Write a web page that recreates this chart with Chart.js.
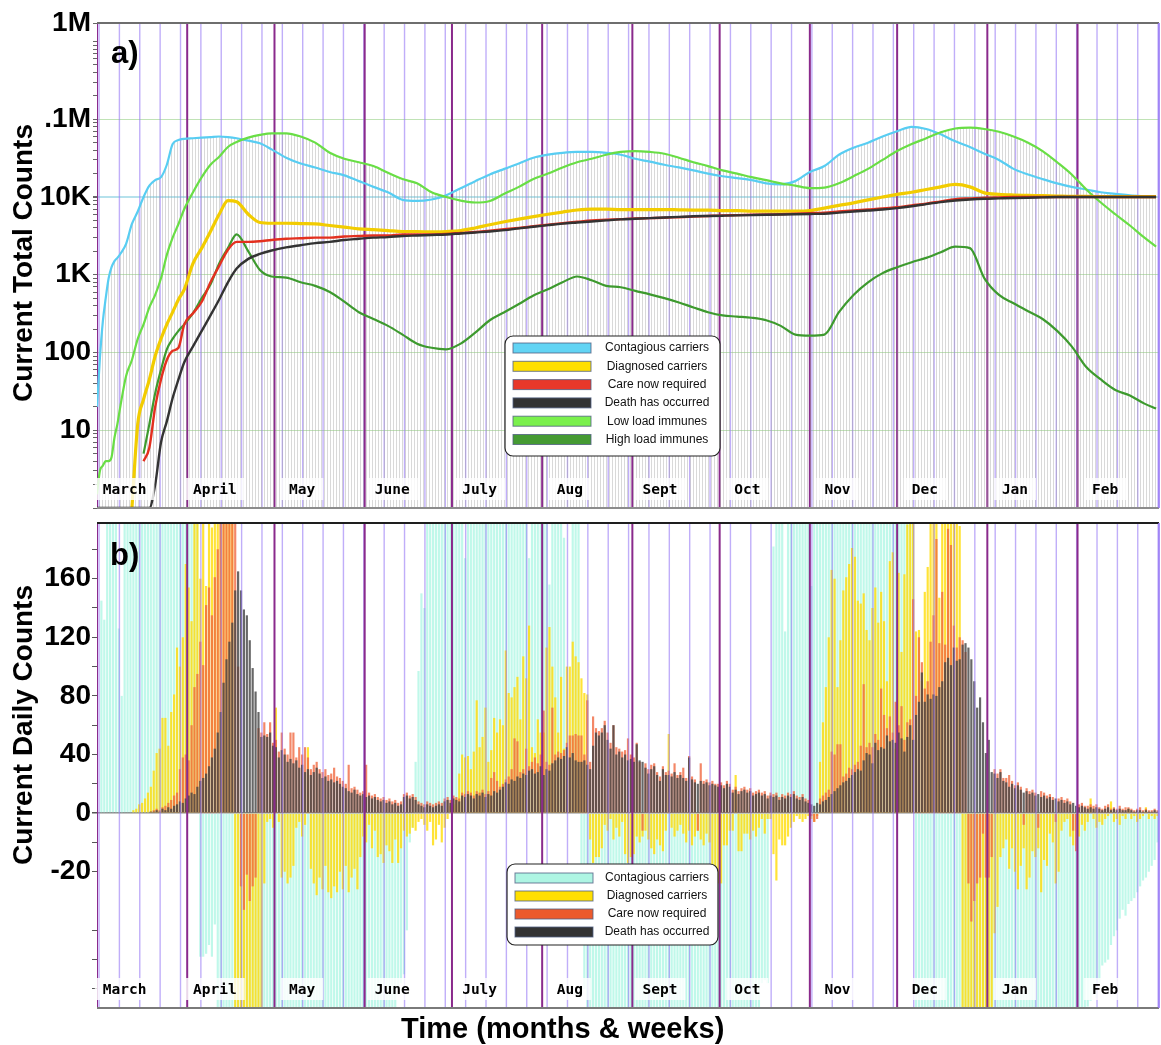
<!DOCTYPE html>
<html lang="en">
<head>
<meta charset="utf-8">
<title>Current total and daily counts</title>
<script src="https://cdn.jsdelivr.net/npm/chart.js@4.4.1/dist/chart.umd.min.js"></script>
<style>
  html, body { margin: 0; padding: 0; background: #fff; }
  .panel { position: absolute; left: 0; width: 1161px; }
  #panelA { top: 0; height: 515px; }
  #panelB { top: 515px; height: 530px; }
</style>
</head>
<body>
<div id="panelA" class="panel"><canvas id="totals"></canvas></div>
<div id="panelB" class="panel"><canvas id="daily"></canvas></div>
<script>
"use strict";
// time axis: day 0 = 1 March, 365 days
const totalDays = 365;
const monthNames = ['March', 'April', 'May', 'June', 'July', 'Aug', 'Sept', 'Oct', 'Nov', 'Dec', 'Jan', 'Feb'];
const monthStartDays = [0, 31, 61, 92, 122, 153, 184, 214, 245, 275, 306, 337];
const weekLineOffset = 0.7;
const monthLabelOffset = 9.5;

// panel a) running totals, read off at these days
const sampleDays = [0,1,2,3,4,5,6,7,8,10,12,14,16,18,20,22,24,26,28,30,33,36,39,42,45,48,52,56,60,
  65,70,75,80,85,90,95,100,105,110,115,120,125,130,135,140,145,150,155,160,165,170,175,180,185,190,195,
  200,205,210,215,220,225,230,235,240,245,250,255,260,265,270,275,280,285,290,295,300,305,310,315,320,
  325,330,335,340,345,350,355,360,364];
const contagiousTotal = [20,85,250,500,900,1250,1500,1650,1850,
  2500,4500,6500,10000,14000,16500,18000,26000,48000,54000,56000,
  57000,58000,59000,60000,59000,57000, 53000,49000,41000,
  32000,27000,24000,21000,19000,16000,13500,11500,9200,8900,
  9300,10500,13000,16000,19500,23000,27000,32000,35000,37000,
  38000,38000,37000,35000,31000,28500,26000,24000,22000,20000,
  18500,17500,16500,15000,14500,16000,21000,25000,35000,43000,
  50000,60000,70000,80000,75000,64000,52000,44000,36000,30000,
  23000,19500,17000,15000,13500,12500,11500,11000,10500,10200, 10000];
const diagnosedTotal = [null,null,null,null,null,null,null,null,null,
  null,1,12,25,45,90,150,230,330,480,650,
  1400,2200,3600,6000,9000,8700, 6000,4700,4600,
  4600,4550,4500,4300,4100,3900,3800,3700,3600,3600,
  3550,3600,3700,4000,4400,4800,5200,5600,6000,6400,
  6800,7000,7000,6900,6900,6900,6900,6850,6800,6800,
  6700,6700,6600,6600,6600,6600,6700,7200,7800,8400,
  9200,10000,10800,11500,12500,13500,14500,13500,11300,10800,
  10600,10500,10400,10300,10200,10200,10100,10100,10100,10100, 10100];
const careTotal = [null,null,null,null,null,null,null,null,null,
  null,null,null,4,6,20,45,80,105,115,230,
  320,450,800,1300,2100,2650, 2650,2700,2800,
  2900,2950,3000,3000,3100,3150,3200,3200,3300,3300,
  3300,3350,3450,3550,3700,3850,4000,4200,4400,4600,
  4800,5000,5100,5200,5300,5350,5400,5500,5600,5700,
  5800,5850,5900,5950,6000,6100,6200,6300,6500,6700,
  6900,7100,7400,7800,8200,8800,9400,9600,9800,9900,
  10000,10000,10000,10000,10000,10000,10000,10000,10000,10000, 10000];
const deathTotal = [1,1,1,1,1,1,1,1,1,
  1,1,1,1,1,2,7,13,26,45,75,
  120,190,300,480,800,1200, 1600,1850,2050,
  2250,2400,2550,2650,2800,2900,3000,3050,3150,3200,
  3250,3300,3400,3500,3600,3750,3950,4150,4350,4550,
  4700,4850,5000,5150,5250,5350,5450,5550,5650,5700,
  5750,5800,5850,5900,5950,6000,6050,6100,6300,6500,
  6700,6900,7200,7600,8100,8600,9000,9300,9500,9600,
  9700,9800,9900,10000,10000,10000,10000,10000,10000,10000, 10000];
const lowLoadImmune = [1.5,3,3.5,4,4,4.5,8,12,20,
  50,80,150,230,380,550,900,1800,3000,4500,7000,
  11500,18000,26000,33000,44000,51000, 58000,63000,66000,
  66000,60000,50000,37000,31000,28000,25000,20500,17000,15000,
  11500,10000,9000,8500,8900,11000,13500,17000,20000,24000,
  28000,31000,35000,38000,39000,38000,36000,32000,28000,25000,
  22000,20000,18000,16500,15000,14000,13000,13200,15000,18500,
  23000,30000,39000,48000,57000,68000,76000,78000,75000,69000,
  60000,50000,39000,28000,19500,12500,8500,6000,4300,3000, 2300];
const highLoadImmune = [null,null,null,null,null,null,null,null,null,
  null,null,null,5,12,30,60,110,150,190,230,
  320,500,750,1400,2200,3300, 2000,1150,950,
  920,800,720,600,450,330,270,220,170,130,
  115,110,130,180,260,330,420,540,650,800,
  950,850,720,690,620,560,500,440,380,330,
  300,290,280,260,220,170,165,170,330,550,
  800,1050,1250,1450,1650,1950,2300,2200,900,550,
  430,340,270,190,120,65,45,33,28,22, 19];

// panel b) daily changes, one value per day (Mar..Feb, one line per month)
const contagiousDaily = [
  0,145,132,300,300,300,300,126,80,300, 300,300,300,300,300,300,300,300,300,300, 300,300,300,300,300,300,300,300,300,300, 300,
  300,300,300,300,-49,-49,-48,-45,-49,-38, -100,-100,-100,-100,-100,-100,-100,-100,-100,-100, -100,-100,-100,-100,-100,-100,-100,-100,-100,-100,
  -100,-100,-100,-100,-100,-100,-100,-100,-100,-100, -100,-100,-100,-100,-100,-100,-100,-100,-100,-100, -100,-100,-100,-100,-100,-100,-100,-100,-100,-100, -100,
  -100,-100,-100,-100,-100,-100,-100,-100,-100,-100, -100,-60,-58,-55,-40,-10,-5,35,97,150, 140,300,300,300,300,300,300,300,300,300,
  300,300,300,300,174,300,300,300,300,300, 300,300,300,300,300,300,300,300,300,300, 300,300,300,300,300,300,174,300,300,300, 300,
  300,300,156,300,300,300,300,188,0,0, 300,300,300,-20,-60,-100,-100,-100,-100,-100, -100,-100,-100,-100,-100,-100,-100,-100,-100,-100, -100,
  -100,-100,-100,-100,-100,-100,-100,-100,-100,-100, -100,-100,-100,-100,-100,-100,-100,-100,-100,-100, -100,-100,-100,-100,-100,-100,-100,-100,-100,-100,
  -100,-100,-100,-100,-100,-100,-100,-100,-100,-100, -100,-100,-100,-100,-58,-57,-58,0,182,300, 300,300,124,300,300,300,300,300,300,300, 300,
  155,300,300,300,300,300,300,300,300,300, 300,300,300,300,300,300,300,300,300,300, 300,300,300,300,300,300,300,300,300,300,
  300,300,300,300,300,300,-100,-100,-100,-100, -100,-100,-100,-100,-100,-100,-100,-100,-100,-100, -100,-100,-100,-100,-100,-100,-100,-100,-100,-100, -100,
  -100,-100,-100,-100,-100,-100,-100,-100,-100,-100, -100,-100,-100,-100,-100,-100,-100,-100,-100,-100, -100,-100,-100,-100,-100,-100,-100,-100,-100,-100, -100,
  -100,-100,-100,-66,-64,-62,-63,-58,-52,-51, -50,-45,-42,-40,-36,-33,-35,-31,-30,-29, -27,-25,-23,-22,-20,-18,-16,-10
];
const diagnosedDaily = [
  0,0,0,0,0,0,0,0,0,0, 0,0,2,3,6,7,10,14,18,29, 41,44,65,65,46,69,81,113,100,120, 170,
  154,131,200,250,160,250,155,250,195,250, 250,250,250,250,250,250,-100,-100,-100,-100, -100,-100,-100,-100,-100,-100,-24,-3,-2,-5,
  72,-3,-22,-20,-24,-22,-18,-5,-3,-8, -4,45,-19,-24,-28,-22,-26,-18,-27,-29, -25,-27,-20,-26,-18,-27,-22,-19,-26,-15, -8,
  -10,-4,-12,-6,-15,-14,-17,-11,-13,-17, -9,-17,-12,-6,-8,-7,-5,-6,-3,-2, -4,-6,-3,-11,-9,-4,-10,-5,-2,5,
  6,10,27,40,38,39,30,42,77,45, 52,72,35,43,65,55,64,60,111,82, 79,86,93,64,107,92,128,45,41,64, 55,
  55,113,127,100,79,55,93,44,100,100, 117,107,103,92,82,81,-9,-17,-15,-15, -12,-4,-6,-2,-9,-5,-8,-3,-14,-17, -15,
  -14,-8,-10,-8,-6,-9,-12,-14,-9,-11, -13,-6,54,-5,-8,-6,-4,-7,-10,-6, -11,-8,-6,-9,-11,-7,-10,-23,-25,-24,
  -24,-11,-11,-6,-6,26,-13,-13,-7,-7, -9,-6,-8,-5,-2,-7,-2,-2,-14,-23, -9,-11,-11,-8,-5,-3,-1,-2,-3,-2, -1,
  -2,-3,-1,35,62,86,120,166,160,86, 118,152,161,170,181,175,145,143,150,125, 118,140,154,130,151,131,90,172,178,44,
  164,110,163,197,250,250,124,125,90,151, 168,250,250,250,147,250,250,250,250,250, 250,196,-100,-100,-100,-100,-100,-100,-100,-100, -100,
  -100,-100,-41,-32,-15,-12,-9,-19,-12,-20, -26,-18,-12,-26,-22,-13,-15,-12,-27,-16, -18,-7,-10,-24,-20,-6,-3,-2,-8,-11, -6,
  -8,-4,-6,-3,10,-2,-5,-3,-4,-2, -1,8,-3,-2,-4,-1,-2,3,-2,-1, -3,-2,-1,4,-2,-1,-2,-1
];
const careDaily = [
  0,0,0,0,0,0,0,0,0,0, 0,0,0,0,0,0,0,0,1,2, 3,2,4,5,7,9,12,14,30,38, 40,
  36,60,86,95,117,101,142,154,135,161, 180,250,250,250,250,250,250,100,-25,-33, -21,-30,-25,-22,58,55,62,54,62,48,
  50,42,55,44,40,55,55,38,45,40, 45,38,30,33,35,30,28,30,26,27, 31,25,24,22,20,33,17,18,16,14, 15,
  33,14,12,13,11,10,11,9,10,8, 9,7,8,13,14,12,13,11,8,7, 6,8,7,6,7,8,7,10,11,9,
  12,11,10,14,13,15,14,12,15,14, 16,13,15,24,28,22,18,20,23,25, 30,51,49,28,30,44,32,35,38,34, 40,
  70,35,33,72,40,42,41,43,48,53, 53,54,53,53,40,77,35,66,58,56, 58,63,55,48,60,45,44,42,43,51, 40,
  38,48,35,-6,34,30,33,34,28,25, 32,28,29,27,34,26,28,31,24,39, 25,23,-6,34,22,23,21,22,20,20,
  21,19,22,20,16,18,15,17,18,16, 17,14,15,16,14,15,12,14,13,14, 11,13,12,14,13,15,12,11,13,10, 9,
  -1,-3,-2,10,12,14,16,42,40,47, 47,25,27,31,30,33,35,46,88,45, 48,45,54,50,85,67,58,66,55,76,
  60,73,50,62,64,146,80,120,103,85, 90,117,135,187,116,151,115,194,183,128, 113,120,118,110,-24,-37,-30,-24,-22,-7, -22,
  -22,-15,30,27,30,24,24,26,22,19, 21,18,-4,17,15,16,14,-5,15,14, 12,13,11,-3,10,11,9,10,8,-6, -13,
  6,7,5,5,6,5,6,4,3,5, 6,3,4,3,5,3,4,4,3,2, 3,4,2,3,2,2,3,2
];
const deathDaily = [
  0,0,0,0,0,0,0,0,0,0, 0,0,0,0,0,0,0,0,1,1, 2,1,3,2,4,3,5,6,8,7, 10,
  12,14,13,18,22,24,27,32,38,44, 55,69,89,105,117,130,152,165,152,139, 135,118,99,83,69,52,53,52,55,46,
  45,38,43,40,35,37,34,36,31,33, 28,30,26,28,31,27,24,25,22,23, 21,22,20,18,17,15,14,16,13,12, 13,
  11,12,10,11,9,8,9,7,8,6, 7,5,6,11,12,10,11,9,6,5, 4,6,5,4,5,6,5,8,9,7,
  10,9,8,12,11,13,12,10,13,12, 14,11,13,12,15,14,16,18,21,20, 23,22,25,24,27,26,29,30,27,28, 32,
  26,30,29,34,36,38,37,39,45,38, 41,36,35,35,36,33,30,46,55,53, 55,60,50,44,60,40,42,38,40,36, 37,
  35,47,36,35,31,27,30,32,26,22, 30,26,26,25,28,24,26,24,22,38, 23,21,20,22,20,21,19,20,19,18,
  19,17,20,18,14,16,13,15,16,14, 15,12,13,14,12,13,10,12,11,12, 9,11,10,12,11,13,10,9,11,8, 7,
  6,5,7,6,8,9,11,13,15,17, 19,21,22,24,26,28,30,29,36,41, 40,34,48,43,45,44,53,49,50,48,
  55,51,42,52,60,50,67,76,96,76, 81,78,81,80,86,90,103,106,101,113, 104,105,115,116,113,105,90,72,79,62, 41,
  50,28,27,24,28,22,21,18,20,17, 19,16,14,15,13,14,12,13,11,12, 10,11,9,10,8,9,7,8,6,7, 5,
  4,5,4,3,4,3,4,3,2,3, 4,2,3,2,3,2,2,3,2,1, 2,2,1,2,1,1,2,1
];

// axis ticks
const totalTickLabels = { 100000: '.1M', 10000: '10K', 1000: '1K', 100: '100', 10: '10' };
const totalAxisTop = 1.73e6;          // top edge of panel a), labelled "1M" there
const dailyTickValues = [180, 160, 140, 120, 100, 80, 60, 40, 20, 0, -10, -20, -40, -50, -60];
const dailyTickLabels = [160, 120, 80, 40, 0, -20];
const negStretch = 2;                 // the negative half of panel b) is drawn at twice the scale

[contagiousDaily, diagnosedDaily, careDaily, deathDaily].forEach((a, i) => {
  if (a.length !== totalDays) console.error('daily series ' + i + ' has ' + a.length + ' values');
});

Chart.defaults.font.family = '"Liberation Sans", Arial, sans-serif';
Chart.defaults.color = '#000';

const toDisplay = v => (v < 0 ? v * negStretch : v);
const toBars = values => values.map((v, d) => ({ x: d + 0.5, y: toDisplay(v) }));
const toPoints = values => values.map((v, i) => ({ x: sampleDays[i], y: v }));

const totalTickValues = [];
for (let k = 0; k <= 6; k++) {
  for (let m = 1; m <= 9; m++) {
    const v = m * Math.pow(10, k);
    if (v < totalAxisTop) totalTickValues.push(v);
  }
}
totalTickValues.push(totalAxisTop);

// keep the y axis at 97px wide and stop its labels from pushing the plot edges in
function fixAxis(scale) {
  scale.width = 97;
  scale.paddingTop = 0;
  scale.paddingBottom = 0;
}

// drawing helpers
function drawVerticals(chart) {
  const { ctx, chartArea: a } = chart;
  const x = chart.scales.x;
  ctx.save();
  ctx.beginPath();
  ctx.rect(a.left, a.top, a.right - a.left, a.bottom - a.top);
  ctx.clip();
  ctx.lineWidth = 1.4;
  ctx.strokeStyle = 'rgba(150,120,245,0.6)';
  for (let d = weekLineOffset; d < totalDays; d += 7) {
    const px = x.getPixelForValue(d);
    ctx.beginPath(); ctx.moveTo(px, a.top); ctx.lineTo(px, a.bottom); ctx.stroke();
  }
  ctx.lineWidth = 2;
  ctx.strokeStyle = '#8a2a8c';
  monthStartDays.forEach(d => {
    const px = x.getPixelForValue(d);
    ctx.beginPath(); ctx.moveTo(px, a.top); ctx.lineTo(px, a.bottom); ctx.stroke();
  });
  ctx.restore();
}

function drawFrame(chart, topColor, bottomColor) {
  const { ctx, chartArea: a } = chart;
  ctx.save();
  ctx.lineWidth = 2;
  ctx.strokeStyle = topColor;
  ctx.beginPath(); ctx.moveTo(a.left, a.top); ctx.lineTo(a.right, a.top); ctx.stroke();
  ctx.strokeStyle = bottomColor;
  ctx.beginPath(); ctx.moveTo(a.left, a.bottom); ctx.lineTo(a.right, a.bottom); ctx.stroke();
  ctx.strokeStyle = 'rgba(150,120,245,0.8)';
  ctx.beginPath(); ctx.moveTo(a.right, a.top); ctx.lineTo(a.right, a.bottom); ctx.stroke();
  ctx.restore();
}

function drawMonthLabels(chart) {
  const { ctx, chartArea: a } = chart;
  const x = chart.scales.x;
  const cy = a.bottom - 19;
  ctx.save();
  ctx.font = 'bold 14.5px "DejaVu Sans Mono"';
  ctx.textAlign = 'center';
  ctx.textBaseline = 'middle';
  monthNames.forEach((name, i) => {
    const cx = x.getPixelForValue(monthStartDays[i] + monthLabelOffset);
    const w = ctx.measureText(name).width + 16;
    ctx.fillStyle = 'rgba(255,255,255,0.82)';
    ctx.fillRect(cx - w / 2, cy - 11, w, 22);
    ctx.fillStyle = '#000';
    ctx.fillText(name, cx, cy + 1);
  });
  ctx.restore();
}

function drawLegendBox(chart, box, rowTop, rowStep, textX) {
  const ctx = chart.ctx;
  const items = chart.data.datasets.filter(ds => ds.legendColor);
  ctx.save();
  ctx.beginPath();
  ctx.roundRect(box.x, box.y, box.w, box.h, 8);
  ctx.fillStyle = '#fff';
  ctx.fill();
  ctx.lineWidth = 1.2;
  ctx.strokeStyle = '#222';
  ctx.stroke();
  ctx.font = '12px "Liberation Sans"';
  ctx.textAlign = 'center';
  ctx.textBaseline = 'middle';
  items.forEach((ds, i) => {
    const cy = box.y + rowTop + i * rowStep;
    ctx.fillStyle = ds.legendColor;
    ctx.fillRect(box.x + 8, cy - 5, 78, 10);
    ctx.lineWidth = 1;
    ctx.strokeStyle = 'rgba(80,95,130,0.8)';
    ctx.strokeRect(box.x + 8, cy - 5, 78, 10);
    ctx.fillStyle = '#111';
    ctx.fillText(ds.label, box.x + textX, cy);
  });
  ctx.restore();
}

function drawText(ctx, text, x, y, font, rotate) {
  ctx.save();
  ctx.translate(x, y);
  if (rotate) ctx.rotate(-Math.PI / 2);
  ctx.font = font;
  ctx.fillStyle = '#000';
  ctx.textAlign = rotate ? 'center' : 'left';
  ctx.textBaseline = rotate ? 'middle' : 'alphabetic';
  ctx.fillText(text, 0, 0);
  ctx.restore();
}

const panelADecor = {
  id: 'panelADecor',
  beforeDatasetsDraw(chart) { drawVerticals(chart); },
  afterDatasetsDraw(chart) {
    drawFrame(chart, '#6e6e6e', '#8c8c8c');
    drawMonthLabels(chart);
    drawLegendBox(chart, { x: 505, y: 336, w: 215, h: 120 }, 12, 18.3, 152);
    drawText(chart.ctx, 'a)', 111, 63, 'bold 31px "Liberation Sans"', false);
    drawText(chart.ctx, 'Current Total Counts', 24, 263, 'bold 28px "Liberation Sans"', true);
  }
};

const panelBDecor = {
  id: 'panelBDecor',
  afterDatasetsDraw(chart) {
    drawVerticals(chart);
    drawFrame(chart, '#1e1e1e', '#7a7a7a');
    drawMonthLabels(chart);
    drawLegendBox(chart, { x: 507, y: 349, w: 211, h: 81 }, 14, 18, 150);
    drawText(chart.ctx, 'b)', 110, 50, 'bold 31px "Liberation Sans"', false);
    drawText(chart.ctx, 'Current Daily Counts', 24, 210, 'bold 28px "Liberation Sans"', true);
    drawText(chart.ctx, 'Time (months & weeks)', 401, 523, 'bold 29px "Liberation Sans"', false);
  }
};

// panel a)
const totalsCanvas = document.getElementById('totals');
const hatchTile = document.createElement('canvas');
hatchTile.width = 3;
hatchTile.height = 4;
const hatchCtx = hatchTile.getContext('2d');
hatchCtx.fillStyle = 'rgba(160,160,160,0.4)';
hatchCtx.fillRect(0, 0, 1, 4);
const hatch = totalsCanvas.getContext('2d').createPattern(hatchTile, 'repeat');

const totalSeries = [contagiousTotal, diagnosedTotal, careTotal, deathTotal, lowLoadImmune, highLoadImmune];
const upperEnvelope = sampleDays.map((d, i) => Math.max(...totalSeries.map(s => s[i] || 0)));

const lineStyle = { pointRadius: 0, fill: false, cubicInterpolationMode: 'monotone', spanGaps: false };

new Chart(totalsCanvas, {
  type: 'line',
  data: {
    datasets: [
      { label: 'Contagious carriers', data: toPoints(contagiousTotal), borderColor: '#58cdf2', borderWidth: 2.2, legendColor: '#62d4f4', order: 6, ...lineStyle },
      { label: 'Diagnosed carriers', data: toPoints(diagnosedTotal), borderColor: '#f2cc00', borderWidth: 3.2, legendColor: '#ffdf00', order: 3, ...lineStyle },
      { label: 'Care now required', data: toPoints(careTotal), borderColor: '#e3301f', borderWidth: 2.4, legendColor: '#e8382a', order: 2, ...lineStyle },
      { label: 'Death has occurred', data: toPoints(deathTotal), borderColor: '#333333', borderWidth: 2.4, legendColor: '#333333', order: 1, ...lineStyle },
      { label: 'Low load immunes', data: toPoints(lowLoadImmune), borderColor: '#69de45', borderWidth: 2.2, legendColor: '#7af04c', order: 5, ...lineStyle },
      { label: 'High load immunes', data: toPoints(highLoadImmune), borderColor: '#3d9a2e', borderWidth: 2.2, legendColor: '#459a33', order: 4, ...lineStyle },
      { label: 'envelope', data: toPoints(upperEnvelope), borderWidth: 0, borderColor: 'rgba(0,0,0,0)', backgroundColor: hatch,
        fill: 'start', pointRadius: 0, cubicInterpolationMode: 'monotone', order: 10 }
    ]
  },
  options: {
    responsive: true,
    maintainAspectRatio: false,
    animation: false,
    events: [],
    layout: { padding: { top: 23, bottom: 7, left: 0, right: 2 } },
    plugins: { legend: { display: false }, tooltip: { enabled: false } },
    scales: {
      x: { type: 'linear', min: 0, max: totalDays, display: false },
      y: {
        type: 'logarithmic',
        min: 1,
        max: totalAxisTop,
        afterFit: fixAxis,
        afterBuildTicks: scale => { scale.ticks = totalTickValues.map(v => ({ value: v })); },
        border: { display: false },
        grid: {
          color: ctx => (totalTickLabels[ctx.tick.value] ? (ctx.tick.value === 10000 ? 'rgba(120,200,220,0.55)' : 'rgba(130,200,110,0.5)') : 'rgba(0,0,0,0)'),
          lineWidth: ctx => (ctx.tick.value === 10000 ? 2 : 1),
          tickColor: '#666',
          tickLength: 4
        },
        ticks: {
          autoSkip: false,
          padding: 2,
          font: { size: 28, weight: 'bold' },
          callback: v => (v === totalAxisTop ? '1M' : (totalTickLabels[v] || ''))
        }
      }
    }
  },
  plugins: [panelADecor]
});

// panel b)
const barStyle = { grouped: false, barPercentage: 0.75, categoryPercentage: 1, borderWidth: 0, clip: 0 };

new Chart(document.getElementById('daily'), {
  type: 'bar',
  data: {
    datasets: [
      { label: 'Contagious carriers', data: toBars(contagiousDaily), backgroundColor: 'rgba(168,245,226,0.72)', legendColor: '#aef5e3', order: 4, ...barStyle },
      { label: 'Diagnosed carriers', data: toBars(diagnosedDaily), backgroundColor: 'rgba(255,222,20,0.85)', legendColor: '#ffdf00', order: 3, ...barStyle },
      { label: 'Care now required', data: toBars(careDaily), backgroundColor: 'rgba(240,105,65,0.8)', legendColor: '#ec5a2c', order: 2, ...barStyle },
      { label: 'Death has occurred', data: toBars(deathDaily), backgroundColor: 'rgba(70,70,70,0.82)', legendColor: '#333333', order: 1, ...barStyle }
    ]
  },
  options: {
    responsive: true,
    maintainAspectRatio: false,
    animation: false,
    events: [],
    layout: { padding: { top: 8, bottom: 37, left: 0, right: 2 } },
    plugins: { legend: { display: false }, tooltip: { enabled: false } },
    scales: {
      x: { type: 'linear', min: 0, max: totalDays, display: false, offset: false },
      y: {
        min: -133,
        max: 198,
        afterFit: fixAxis,
        afterBuildTicks: scale => { scale.ticks = dailyTickValues.map(v => ({ value: toDisplay(v) })); },
        border: { display: false },
        grid: {
          color: ctx => (ctx.tick.value === 0 ? '#8a8a8a' : 'rgba(0,0,0,0)'),
          lineWidth: ctx => (ctx.tick.value === 0 ? 1.5 : 1),
          tickColor: '#555',
          tickLength: 5
        },
        ticks: {
          autoSkip: false,
          padding: 1,
          font: { size: 28, weight: 'bold' },
          callback: v => {
            const t = v < 0 ? v / negStretch : v;
            return dailyTickLabels.includes(t) ? String(t) : '';
          }
        }
      }
    }
  },
  plugins: [panelBDecor]
});
</script>
</body>
</html>
